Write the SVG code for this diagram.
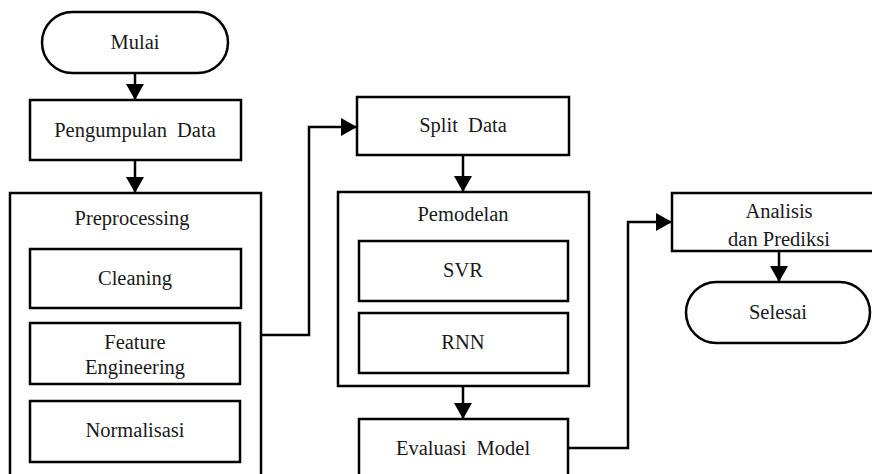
<svg xmlns="http://www.w3.org/2000/svg" width="872" height="474" viewBox="0 0 872 474">
  <style>
    .box { fill: #ffffff; stroke: #000000; stroke-width: 2.5; }
    .lbl { font-family: 'Liberation Serif', 'DejaVu Serif', serif; font-size: 20.5px; fill: #1a1a1a; text-anchor: middle; }
    .wide { word-spacing: 5px; }
    .link { fill: none; stroke: #000000; stroke-width: 2.5; }
  </style>
  <defs>
    <marker id="arrow" markerUnits="userSpaceOnUse" markerWidth="18" markerHeight="18" viewBox="0 0 18 18" refX="16" refY="9" orient="auto">
      <path d="M0,0 L16,9 L0,18 Z" fill="#000000"/>
    </marker>
  </defs>
  <rect width="872" height="474" fill="#ffffff"/>

  <g id="connectors">
    <line class="link" x1="135" y1="73" x2="135" y2="100" marker-end="url(#arrow)"/>
    <line class="link" x1="135" y1="160" x2="135" y2="193" marker-end="url(#arrow)"/>
    <polyline class="link" points="261,335 309,335 309,127 357,127" marker-end="url(#arrow)"/>
    <line class="link" x1="463" y1="155" x2="463" y2="192" marker-end="url(#arrow)"/>
    <line class="link" x1="463" y1="386" x2="463" y2="419" marker-end="url(#arrow)"/>
    <polyline class="link" points="568,448 628,448 628,222 672,222" marker-end="url(#arrow)"/>
    <line class="link" x1="779" y1="251" x2="779" y2="282" marker-end="url(#arrow)"/>
  </g>

  <g id="mulai">
    <rect class="box" x="42" y="12" width="186" height="61" rx="30.5"/>
    <text class="lbl" x="135" y="49">Mulai</text>
  </g>

  <g id="pengumpulan">
    <rect class="box" x="30" y="100" width="211" height="60"/>
    <text class="lbl wide" x="135" y="137">Pengumpulan Data</text>
  </g>

  <g id="preprocessing">
    <rect class="box" x="10" y="193" width="251" height="300"/>
    <text class="lbl" x="132" y="225">Preprocessing</text>
  </g>

  <g id="cleaning">
    <rect class="box" x="30" y="249" width="211" height="59"/>
    <text class="lbl" x="135" y="285">Cleaning</text>
  </g>

  <g id="feature-engineering">
    <rect class="box" x="30" y="323" width="210" height="61"/>
    <text class="lbl" x="135" y="349">Feature</text>
    <text class="lbl" x="135" y="374">Engineering</text>
  </g>

  <g id="normalisasi">
    <rect class="box" x="30" y="401" width="210" height="61"/>
    <text class="lbl" x="135" y="437">Normalisasi</text>
  </g>

  <g id="split-data">
    <rect class="box" x="357" y="97" width="212" height="58"/>
    <text class="lbl wide" x="463" y="132">Split Data</text>
  </g>

  <g id="pemodelan">
    <rect class="box" x="338" y="192" width="251" height="194"/>
    <text class="lbl" x="463" y="221">Pemodelan</text>
  </g>

  <g id="svr">
    <rect class="box" x="359" y="241" width="209" height="60"/>
    <text class="lbl" x="463" y="277">SVR</text>
  </g>

  <g id="rnn">
    <rect class="box" x="359" y="313" width="209" height="60"/>
    <text class="lbl" x="463" y="349">RNN</text>
  </g>

  <g id="evaluasi-model">
    <rect class="box" x="359" y="419" width="209" height="80"/>
    <text class="lbl wide" x="463" y="455">Evaluasi Model</text>
  </g>

  <g id="analisis-prediksi">
    <rect class="box" x="672" y="193" width="220" height="58"/>
    <text class="lbl" x="779" y="218">Analisis</text>
    <text class="lbl" x="779" y="246">dan Prediksi</text>
  </g>

  <g id="selesai">
    <rect class="box" x="686" y="282" width="184" height="61" rx="30.5"/>
    <text class="lbl" x="778" y="319">Selesai</text>
  </g>
</svg>
